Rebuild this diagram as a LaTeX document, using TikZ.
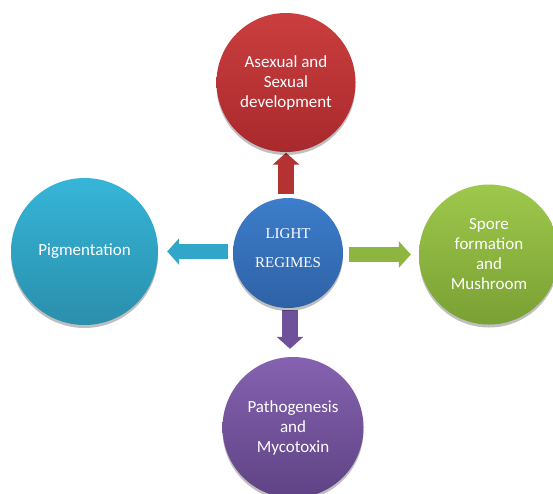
\documentclass[tikz,border=0pt]{standalone}
\usepackage{fontspec}
\setmainfont{Carlito}
\newfontfamily\centerserif{Liberation Serif}
\usetikzlibrary{arrows.meta,shadows,backgrounds}
\definecolor{redT}{HTML}{CB3E3F}
\definecolor{redB}{HTML}{A8292C}
\definecolor{bluT}{HTML}{3D7DCB}
\definecolor{bluB}{HTML}{2E62A6}
\definecolor{cyaT}{HTML}{36B5D8}
\definecolor{cyaB}{HTML}{2A8FAC}
\definecolor{greT}{HTML}{9EC84C}
\definecolor{greB}{HTML}{79A033}
\definecolor{purT}{HTML}{8562B0}
\definecolor{purB}{HTML}{5F4385}
\definecolor{redA}{HTML}{B33232}
\definecolor{cyaA}{HTML}{31A6C8}
\definecolor{greA}{HTML}{8DB53F}
\definecolor{purA}{HTML}{6F509A}
\begin{document}
\begin{tikzpicture}[x=1pt,y=-1pt,
  bubble/.style={circle, inner sep=0pt, text=white, align=center,
    font=\fontsize{17}{20}\selectfont,
    drop shadow={shadow xshift=0pt, shadow yshift=-3pt, opacity=0.25, fill=black}},
  blockarrow/.style={line width=16pt, -{Triangle[width=26pt,length=12pt]}},
  centertext/.style={text=white, align=center, font=\centerserif\fontsize{15}{29}\selectfont}
]
\useasboundingbox (0,0) rectangle (553,493);
% circles
\node[bubble, minimum size=110pt, top color=bluT, bottom color=bluB] (c) at (288,253) {};
\node[centertext] at ([yshift=5pt]c.center) {LIGHT\\REGIMES};
\node[bubble, minimum size=139pt, top color=redT, bottom color=redB] (top) at (286,82.5) {Asexual and\\Sexual\\development};
\node[bubble, minimum size=147pt, top color=cyaT, bottom color=cyaB] (left) at (84.5,251.5) {Pigmentation};
\node[bubble, minimum size=140pt, top color=greT, bottom color=greB] (right) at (489,254.5) {Spore\\formation\\and\\Mushroom};
\node[bubble, minimum size=141pt, top color=purT, bottom color=purB] (bottom) at (293,427.5) {Pathogenesis\\and\\Mycotoxin};
% arrows
\begin{scope}[on background layer]
\fill[white] (0,0) rectangle (553,493);
\draw[blockarrow, draw=redA, fill=redA, shorten <=4pt, shorten >=0.5pt] ([xshift=-2pt]c.north) -- (top.south);
\draw[blockarrow, draw=cyaA, fill=cyaA, line width=15pt, shorten <=5pt, shorten >=9pt] ([yshift=1.5pt]c.west) -- (left.east);
\draw[blockarrow, draw=greA, fill=greA, line width=15pt, shorten <=6pt, shorten >=8pt] ([yshift=-1.5pt]c.east) -- (right.west);
\draw[blockarrow, draw=purA, fill=purA, shorten <=2pt, shorten >=8pt] ([xshift=2pt]c.south) -- ([xshift=-3pt]bottom.north);
\end{scope}
\end{tikzpicture}
\end{document}
